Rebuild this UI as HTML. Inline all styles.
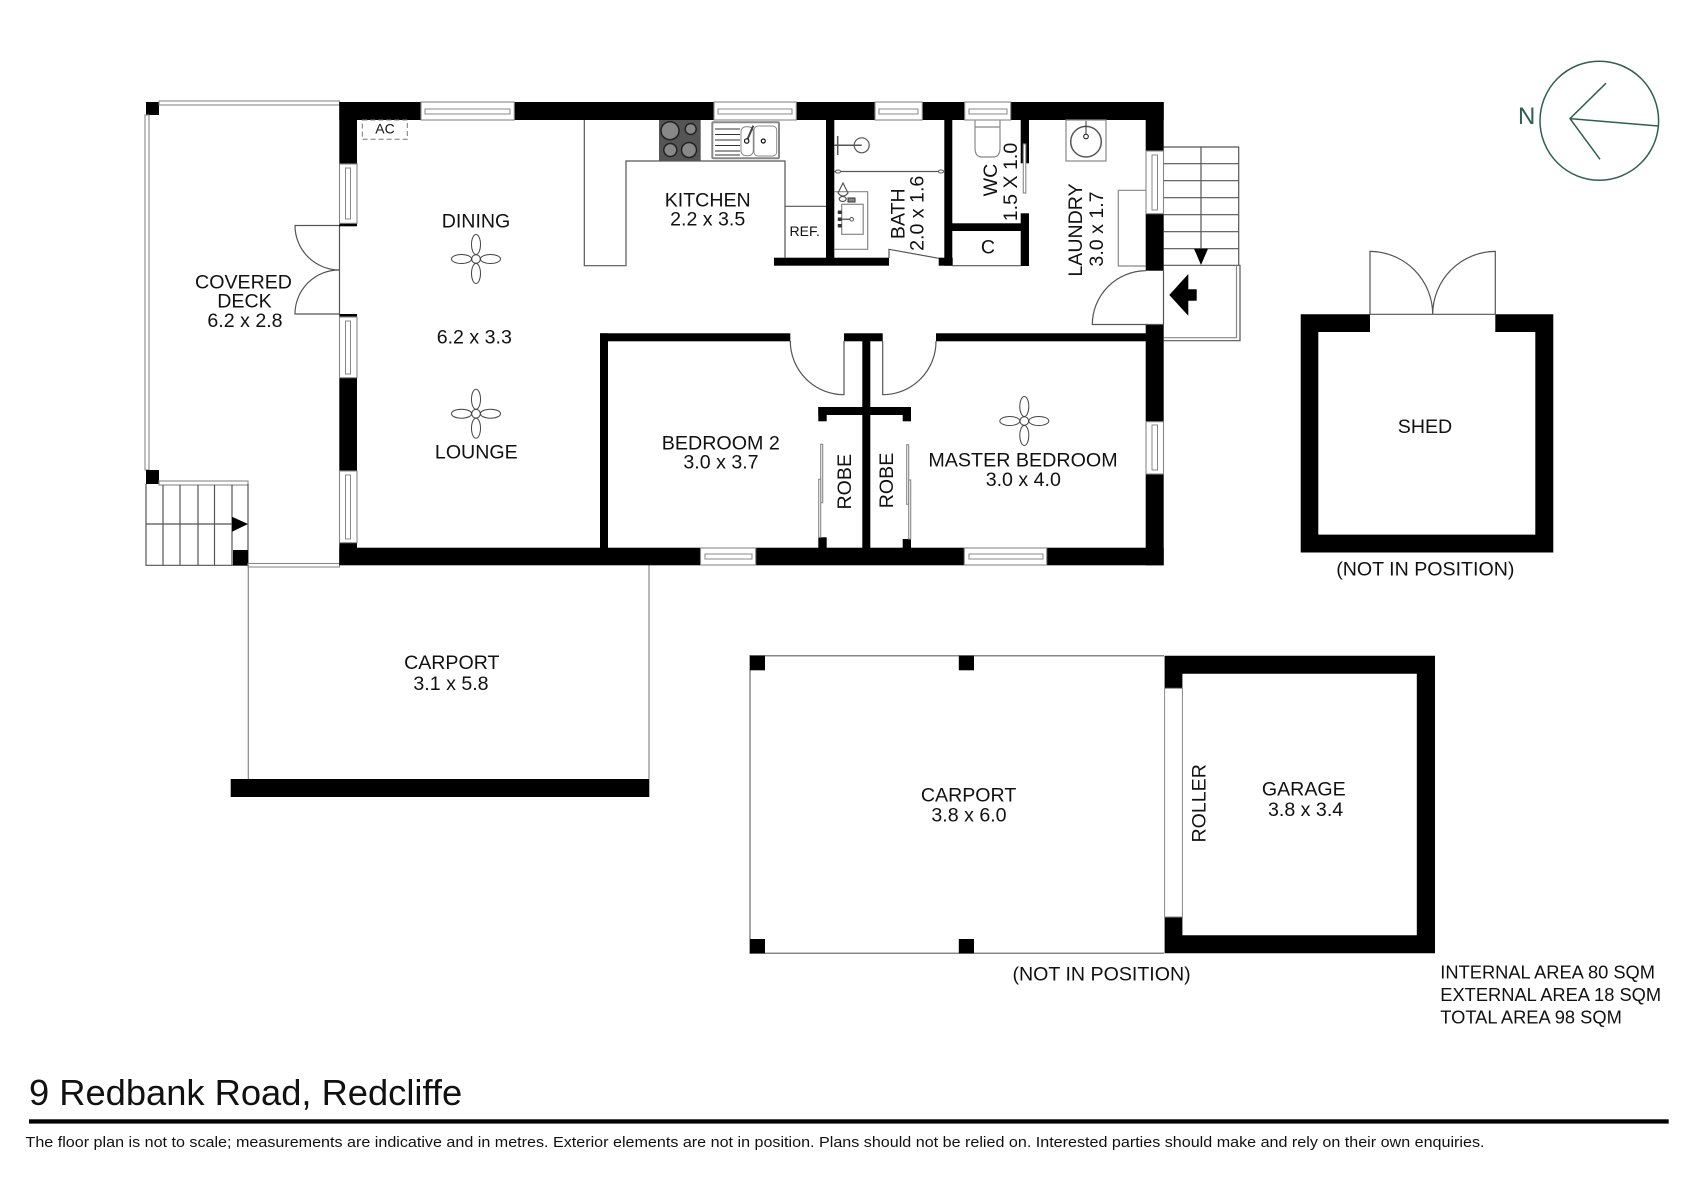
<!DOCTYPE html>
<html><head><meta charset="utf-8"><style>
html,body{margin:0;padding:0;background:#fff;width:1697px;height:1200px;overflow:hidden}
svg{display:block}
text{font-family:"Liberation Sans",Arial,sans-serif;font-size:19.6px;fill:#111;text-anchor:middle}
.k{fill:#000;stroke:none}
.t{fill:none;stroke:#555;stroke-width:1.2}
.g{fill:none;stroke:#888;stroke-width:1.2}
.w{fill:#fff;stroke:#888;stroke-width:1.1}
.i{fill:none;stroke:#888;stroke-width:1}
.f{fill:#fff;stroke:#555;stroke-width:1}
</style></head><body>
<svg width="1697" height="1200" viewBox="0 0 1697 1200" xmlns="http://www.w3.org/2000/svg">
<rect width="1697" height="1200" fill="#fff"/>

<!-- deck -->
<rect class="k" x="146" y="102" width="13" height="13"/>
<rect class="w" x="159" y="101" width="180.500" height="4"/>
<rect class="w" x="145" y="115" width="4" height="355"/>
<rect class="k" x="146" y="470" width="13" height="14"/>
<rect class="w" x="159" y="481" width="89" height="4"/>
<path class="t" d="M146 484V565.300H248V484M163 485V565M180 485V565M198 485V565M214.500 485V565M232 485V565M146 524H232"/>
<path class="k" d="M232 516.700L248 524L232 531.700Z"/>
<rect class="k" x="233" y="550" width="15" height="15.300"/>
<rect class="w" x="248" y="563.500" width="91.500" height="3.500"/>
<path class="g" d="M248.300 565V779M649 565V779"/>
<rect class="k" x="230.700" y="779" width="418.600" height="18"/>

<!-- deck doors -->
<path class="t" d="M339.500 226V314M339.500 225.500H295A44.500 44.500 0 0 0 339.500 270M339.500 314H295A44 44 0 0 1 339.500 270"/>

<!-- main outer walls -->
<rect class="k" x="339.300" y="102" width="824.400" height="18"/>
<rect class="k" x="339.300" y="547.700" width="824.400" height="17.600"/>
<rect class="k" x="339.300" y="102" width="17.700" height="62"/>
<rect class="k" x="339.300" y="223.300" width="17.700" height="3"/>
<rect class="k" x="339.300" y="314" width="17.700" height="3"/>
<rect class="k" x="339.300" y="377.700" width="17.700" height="93.300"/>
<rect class="k" x="339.300" y="542.700" width="17.700" height="22"/>
<rect class="k" x="1145.700" y="102" width="18" height="49"/>
<rect class="k" x="1145.700" y="213.700" width="18" height="57"/>
<rect class="k" x="1145.700" y="324.300" width="18" height="241"/>

<!-- windows horizontal -->
<g>
<rect class="w" x="421" y="102" width="93.300" height="18"/><path class="i" d="M425 109H510V114H425Z"/>
<rect class="w" x="714" y="102" width="82.300" height="18"/><path class="i" d="M718 109H792V114H718Z"/>
<rect class="w" x="875" y="102" width="47.300" height="18"/><path class="i" d="M879 109H918V114H879Z"/>
<rect class="w" x="964.700" y="102" width="46" height="18"/><path class="i" d="M969 109H1007V114H969Z"/>
<rect class="w" x="700.500" y="548" width="55.200" height="17"/><path class="i" d="M705 554H752V559H705Z"/>
<rect class="w" x="964.300" y="548" width="82.400" height="17"/><path class="i" d="M969 554H1043V559H969Z"/>
</g>
<!-- windows vertical -->
<g>
<rect class="w" x="339.500" y="164" width="17.500" height="59.300"/><path class="i" d="M345.500 168V219H350.500V168Z"/>
<rect class="w" x="339.500" y="317" width="17.500" height="60.700"/><path class="i" d="M345.500 321V374H350.500V321Z"/>
<rect class="w" x="339.500" y="471" width="17.500" height="71.700"/><path class="i" d="M345.500 475V539H350.500V475Z"/>
<rect class="w" x="1146" y="151" width="17.500" height="62.700"/><path class="i" d="M1152 155V210H1157.500V155Z"/>
<rect class="w" x="1146" y="421.700" width="17.500" height="52.300"/><path class="i" d="M1152 425V470H1157.500V425Z"/>
</g>

<!-- AC -->
<rect x="362.300" y="120" width="45" height="19.300" fill="none" stroke="#777" stroke-width="1" stroke-dasharray="5 3"/>
<text x="385" y="133.300" style="font-size:14px">AC</text>

<!-- kitchen -->
<path class="t" d="M584.300 120V265.700H626V161H785V257.700M785 206.300H826M659 161H700"/>
<rect x="659" y="120" width="41.700" height="40.700" fill="#555"/>
<g stroke="#222" stroke-width="1.500" fill="#888">
<circle cx="670" cy="130.700" r="9"/><circle cx="690.700" cy="129" r="5.500"/><circle cx="670.300" cy="150" r="6.500"/><circle cx="689" cy="150" r="7.500"/>
</g>
<rect x="712.300" y="122.300" width="66.700" height="36" rx="1" fill="#fff" stroke="#888" stroke-width="2"/>
<path d="M715 129H740M715 134.500H740M715 140H740M715 145.500H740M715 151H740M715 155H740" stroke="#333" stroke-width="1" fill="none"/>
<rect x="741" y="126.700" width="12.300" height="29" rx="5" class="i"/>
<rect x="754" y="126" width="22.700" height="30" rx="4" class="i"/>
<path d="M746.700 141L753.300 125.700" stroke="#444" stroke-width="2"/>
<circle cx="746.700" cy="141" r="2.200" fill="#fff" stroke="#111" stroke-width="1.200"/>
<circle cx="763.300" cy="141" r="2" fill="#fff" stroke="#111" stroke-width="1.200"/>
<text x="707.700" y="206.700">KITCHEN</text>
<text x="707.700" y="225.700">2.2 x 3.5</text>
<text x="804.700" y="236" style="font-size:14px">REF.</text>

<!-- bath -->
<rect class="k" x="826" y="120" width="8.300" height="145"/>
<rect class="k" x="774" y="257.700" width="115" height="8"/>
<rect class="k" x="938.700" y="257.700" width="14" height="8"/>
<rect class="k" x="944.300" y="120" width="8" height="145.700"/>
<path class="t" d="M889 258V249.300L938.700 258.300"/>
<path d="M834 171.500H944" stroke="#555" stroke-width="1.300"/>
<ellipse class="f" cx="838" cy="171.500" rx="2.500" ry="1.500"/><ellipse class="f" cx="941" cy="171.500" rx="2.500" ry="1.500"/>
<circle class="t" cx="861.700" cy="145.300" r="7.500"/>
<path d="M834 145.300H861.700M837.700 136V155" stroke="#555" stroke-width="1.500"/>
<path class="g" d="M834 191.700H867.700V249.300H834"/>
<rect class="g" x="841.700" y="204.300" width="21.500" height="30"/>
<path class="t" d="M843 183L838 193Q843 199 848 193Z"/>
<ellipse class="t" cx="842.700" cy="199" rx="3.500" ry="2.500"/>
<rect x="848" y="198" width="7" height="4" fill="#888" stroke="#333" stroke-width="1"/>
<path d="M840 219.300H851" stroke="#666" stroke-width="1.500"/><circle class="f" cx="851.700" cy="219.300" r="1.800"/>
<rect x="837.800" y="210.500" width="4" height="3.500" fill="#333"/><rect x="837.800" y="217.500" width="4" height="3.500" fill="#333"/><rect x="837.800" y="224" width="4" height="3.500" fill="#333"/>
<text transform="translate(904.500,213.700) rotate(-90)">BATH</text>
<text transform="translate(923.500,213.300) rotate(-90)">2.0 x 1.6</text>

<!-- WC / C / laundry -->
<rect class="k" x="1020.700" y="120" width="8.300" height="43.300"/>
<rect class="k" x="1020.700" y="213.300" width="8.300" height="52.700"/>
<rect class="k" x="952" y="223.300" width="69" height="7.700"/>
<path class="t" d="M952 265.700H1021"/>
<rect class="w" x="1023.300" y="144" width="2.500" height="49"/>
<path class="g" d="M975 120V148Q975 157 982 157H993Q1000 157 1000 148V120M975 127H1000"/>
<text transform="translate(997,180) rotate(-90)">WC</text>
<text transform="translate(1017,182) rotate(-90)">1.5 X 1.0</text>
<text x="988" y="253.500">C</text>
<rect class="g" x="1066" y="120" width="40" height="41"/>
<circle cx="1086" cy="141.700" r="15.300" fill="none" stroke="#555" stroke-width="1.500"/>
<path d="M1086 121V137" stroke="#333" stroke-width="1"/>
<circle cx="1086" cy="136.500" r="2.300" fill="#fff" stroke="#111" stroke-width="1"/>
<path class="g" d="M1146 190.300H1118.300V266H1146"/>
<text transform="translate(1082,230) rotate(-90)">LAUNDRY</text>
<text transform="translate(1103,229) rotate(-90)">3.0 x 1.7</text>

<!-- laundry door -->
<path class="t" d="M1163.500 270.700V324.500H1092.300A54 54 0 0 1 1146 270.700"/>

<!-- right stairs -->
<path class="t" d="M1163.500 147H1238.700V265.300M1163.500 163.700H1238.700M1163.500 180.700H1238.700M1163.500 197.700H1238.700M1163.500 214.700H1238.700M1163.500 231.700H1238.700M1163.500 248.700H1238.700M1201 147V250"/>
<path class="k" d="M1194 248.700H1208L1201 265Z"/>
<path class="t" d="M1163.500 265.300H1240V340.700H1163.500"/>
<path class="g" d="M1236.500 265.300V337.700H1163.500"/>
<path class="k" d="M1169.300 295L1188.300 274V289.300H1196.700V300.700H1188.300V315.700Z"/>

<!-- bedrooms -->
<rect class="k" x="600" y="333.300" width="190.300" height="8"/>
<rect class="k" x="600" y="333.300" width="8" height="215"/>
<rect class="k" x="844" y="333.300" width="38.700" height="8"/>
<rect class="k" x="936" y="333.300" width="210" height="8"/>
<rect class="k" x="862.300" y="341" width="8" height="207"/>
<rect class="k" x="818.300" y="407" width="92.700" height="8"/>
<rect class="k" x="818.300" y="407" width="8.400" height="14.300"/>
<rect class="k" x="902.700" y="407" width="8.300" height="14.300"/>
<rect class="k" x="818.300" y="537.300" width="8.400" height="11"/>
<rect class="k" x="902.700" y="539" width="8.300" height="9"/>
<path class="t" d="M790.300 341A53.700 53.700 0 0 0 844 394.700V341M936 341A53.300 53.300 0 0 1 882.700 394.700V341"/>
<rect class="w" x="820.700" y="444.300" width="2" height="58.400"/>
<rect class="w" x="818.700" y="479.300" width="2" height="58"/>
<rect class="w" x="906.700" y="444.700" width="2" height="59.600"/>
<rect class="w" x="908.700" y="480" width="2" height="59"/>
<text x="720.800" y="449.300" style="font-size:19.7px">BEDROOM 2</text>
<text x="721" y="468.700">3.0 x 3.7</text>
<text transform="translate(851,481.700) rotate(-90)">ROBE</text>
<text transform="translate(893,480.500) rotate(-90)">ROBE</text>
<text x="1023" y="466.700" style="font-size:19.7px">MASTER BEDROOM</text>
<text x="1023.300" y="486">3.0 x 4.0</text>

<!-- fans -->
<g fill="none" stroke="#444" stroke-width="1">
<g transform="translate(476,259)"><circle r="4.300"/><ellipse cy="-14.500" rx="4.500" ry="10"/><ellipse cy="14.500" rx="4.500" ry="10"/><ellipse cx="-14.500" rx="10" ry="4.500"/><ellipse cx="14.500" rx="10" ry="4.500"/></g>
<g transform="translate(476,413.700)"><circle r="4.300"/><ellipse cy="-14.500" rx="4.500" ry="10"/><ellipse cy="14.500" rx="4.500" ry="10"/><ellipse cx="-14.500" rx="10" ry="4.500"/><ellipse cx="14.500" rx="10" ry="4.500"/></g>
<g transform="translate(1024.300,421)"><circle r="4.300"/><ellipse cy="-14.500" rx="4.500" ry="10"/><ellipse cy="14.500" rx="4.500" ry="10"/><ellipse cx="-14.500" rx="10" ry="4.500"/><ellipse cx="14.500" rx="10" ry="4.500"/></g>
</g>

<!-- room labels left -->
<text x="243.500" y="288.300">COVERED</text>
<text x="244.500" y="307.700">DECK</text>
<text x="245" y="327">6.2 x 2.8</text>
<text x="476" y="227.700">DINING</text>
<text x="474.300" y="343.300">6.2 x 3.3</text>
<text x="476.300" y="458.300">LOUNGE</text>
<text x="451.800" y="669">CARPORT</text>
<text x="451" y="690">3.1 x 5.8</text>

<!-- shed -->
<path class="k" fill-rule="evenodd" d="M1300.700 314.300H1370V332H1318.300V534.600H1535.300V332H1495.300V314.300H1553.300V552.500H1300.700Z"/>
<path class="t" d="M1370 314.300H1495.300M1370 314.300V251.400A63 63 0 0 1 1432.700 314.300A63 63 0 0 1 1495.300 251.400V314.300"/>
<text x="1425" y="432.900">SHED</text>
<text x="1425.300" y="575.700">(NOT IN POSITION)</text>

<!-- compass -->
<ellipse cx="1599.300" cy="120.700" rx="59.300" ry="59.500" fill="none" stroke="#2f5f50" stroke-width="1.500"/>
<path d="M1606 83.200L1570 118.600L1600 159.300M1570 118.600L1658.300 126" fill="none" stroke="#2f5f50" stroke-width="1.500"/>
<text x="1526.700" y="124" style="font-size:24px;fill:#2f5f50">N</text>

<!-- carport + garage -->
<path class="g" style="stroke-width:1.500" d="M1164 655.700H750V953.300H1164"/>
<rect class="k" x="750" y="655.700" width="15" height="14.600"/>
<rect class="k" x="958.800" y="655.700" width="15.200" height="14.600"/>
<rect class="k" x="750" y="939" width="15" height="14.300"/>
<rect class="k" x="958.800" y="939" width="15.200" height="14.300"/>
<path class="k" fill-rule="evenodd" d="M1164.600 655.700H1435V953.300H1164.600ZM1182.400 673.700V935.300H1416.800V673.700Z"/>
<rect x="1164.600" y="688.300" width="17.800" height="228.700" fill="#fff" stroke="#888" stroke-width="1"/>
<text x="968.600" y="801.300">CARPORT</text>
<text x="969" y="821.300">3.8 x 6.0</text>
<text x="1303.800" y="795.700">GARAGE</text>
<text x="1305.600" y="816">3.8 x 3.4</text>
<text transform="translate(1205.500,803.300) rotate(-90)">ROLLER</text>
<text x="1101.600" y="980.700">(NOT IN POSITION)</text>

<!-- area -->
<text x="1440.300" y="978.500" style="font-size:18.300px;text-anchor:start">INTERNAL AREA 80 SQM</text>
<text x="1440.300" y="1001" style="font-size:18.300px;text-anchor:start">EXTERNAL AREA 18 SQM</text>
<text x="1440.300" y="1023.500" style="font-size:18.300px;text-anchor:start">TOTAL AREA 98 SQM</text>

<!-- footer -->
<text x="29" y="1105" style="font-size:36.300px;text-anchor:start">9 Redbank Road, Redcliffe</text>
<rect class="k" x="29" y="1119.300" width="1639.700" height="4.300"/>
<text x="25.500" y="1147" textLength="1459" lengthAdjust="spacingAndGlyphs" style="font-size:15px;text-anchor:start">The floor plan is not to scale; measurements are indicative and in metres. Exterior elements are not in position. Plans should not be relied on. Interested parties should make and rely on their own enquiries.</text>
</svg>
</body></html>
